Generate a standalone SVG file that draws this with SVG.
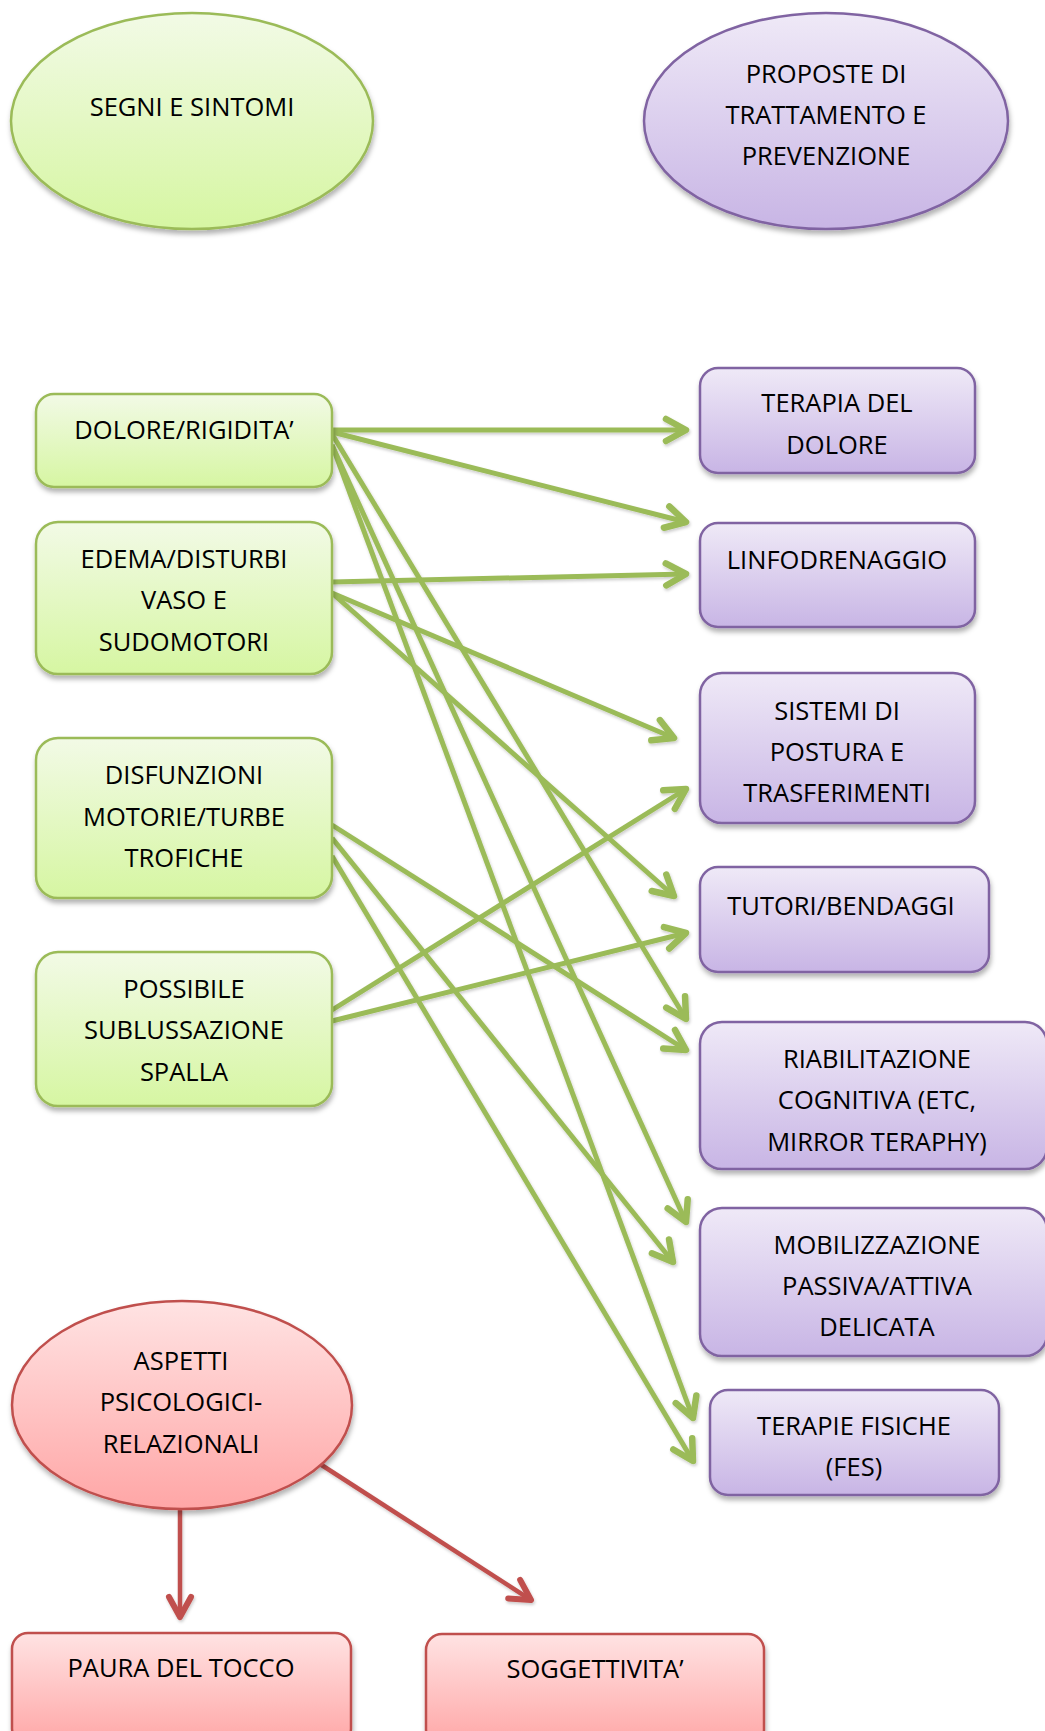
<svg xmlns="http://www.w3.org/2000/svg" width="1045" height="1731" viewBox="0 0 1045 1731">
<defs>
<linearGradient id="gG" x1="0" y1="0" x2="0" y2="1"><stop offset="0" stop-color="#F2FAE6"/><stop offset="1" stop-color="#D6F6A2"/></linearGradient>
<linearGradient id="gP" x1="0" y1="0" x2="0" y2="1"><stop offset="0" stop-color="#EFE9F7"/><stop offset="1" stop-color="#C8B5E5"/></linearGradient>
<linearGradient id="gR" x1="0" y1="0" x2="0" y2="1"><stop offset="0" stop-color="#FFE3E3"/><stop offset="1" stop-color="#FFA6A6"/></linearGradient>
<filter id="sh" x="-10%" y="-10%" width="120%" height="130%"><feDropShadow dx="1" dy="4" stdDeviation="2.5" flood-color="#000" flood-opacity="0.3"/></filter>
<filter id="lsh" x="-10%" y="-10%" width="120%" height="120%"><feDropShadow dx="1" dy="2" stdDeviation="1.5" flood-color="#000" flood-opacity="0.2"/></filter>
<marker id="ag" markerUnits="userSpaceOnUse" viewBox="-28 -18 34 36" refX="0" refY="0" markerWidth="34" markerHeight="36" orient="auto">
<path d="M-20,-11 L0,0 L-20,11" fill="none" stroke="#9BBB59" stroke-width="6.5" stroke-linecap="round" stroke-linejoin="round"/>
</marker>
<marker id="ar" markerUnits="userSpaceOnUse" viewBox="-28 -18 34 36" refX="0" refY="0" markerWidth="34" markerHeight="36" orient="auto">
<path d="M-20,-11 L0,0 L-20,11" fill="none" stroke="#C0504D" stroke-width="6" stroke-linecap="round" stroke-linejoin="round"/>
</marker>
</defs>
<style>
.t{font-family:"Open Sans","Noto Sans","Liberation Sans",sans-serif;font-size:25.5px;fill:#000;text-anchor:middle}
.g{fill:url(#gG);stroke:#9BBB59;stroke-width:2.5;filter:url(#sh)}
.p{fill:url(#gP);stroke:#8064A2;stroke-width:2.5;filter:url(#sh)}
.r{fill:url(#gR);stroke:#C0504D;stroke-width:2.5;filter:url(#sh)}
.cg line{stroke:#9BBB59;stroke-width:5;marker-end:url(#ag)}
.cr line{stroke:#C0504D;stroke-width:4.5;marker-end:url(#ar)}
</style>
<rect width="1045" height="1731" fill="#fff"/>

<g id="connectors" filter="url(#lsh)">
<g class="cg">
<line x1="332" y1="430" x2="686" y2="430"/>
<line x1="332" y1="432" x2="686" y2="522"/>
<line x1="332" y1="434" x2="686" y2="1019"/>
<line x1="332" y1="445" x2="686" y2="1222"/>
<line x1="332" y1="445" x2="693" y2="1418"/>
<line x1="332" y1="582" x2="686" y2="574"/>
<line x1="332" y1="593" x2="674" y2="738"/>
<line x1="332" y1="593" x2="674" y2="896"/>
<line x1="332" y1="825" x2="686" y2="1050"/>
<line x1="332" y1="838" x2="673" y2="1262"/>
<line x1="332" y1="856" x2="693" y2="1461"/>
<line x1="332" y1="1010" x2="686" y2="789"/>
<line x1="332" y1="1021" x2="686" y2="933"/>
</g>
<g class="cr">
<line x1="180" y1="1509" x2="180" y2="1617"/>
<line x1="320" y1="1464" x2="531" y2="1600"/>
</g>
</g>

<g id="segni"><ellipse class="g" cx="192" cy="121" rx="181" ry="108"/><text class="t" x="192" y="116">SEGNI E SINTOMI</text></g>
<g id="proposte"><ellipse class="p" cx="826" cy="121" rx="182" ry="108"/><text class="t" x="826" y="83">PROPOSTE DI</text><text class="t" x="826" y="124">TRATTAMENTO E</text><text class="t" x="826" y="165">PREVENZIONE</text></g>

<g id="dolore"><rect class="g" x="36" y="394" width="296" height="93" rx="18"/><text class="t" x="184" y="439">DOLORE/RIGIDITA’</text></g>
<g id="edema"><rect class="g" x="36" y="522" width="296" height="152" rx="22"/><text class="t" x="184" y="568">EDEMA/DISTURBI</text><text class="t" x="184" y="609">VASO E</text><text class="t" x="184" y="651">SUDOMOTORI</text></g>
<g id="disfunzioni"><rect class="g" x="36" y="738" width="296" height="160" rx="22"/><text class="t" x="184" y="784">DISFUNZIONI</text><text class="t" x="184" y="826">MOTORIE/TURBE</text><text class="t" x="184" y="867">TROFICHE</text></g>
<g id="possibile"><rect class="g" x="36" y="952" width="296" height="154" rx="22"/><text class="t" x="184" y="998">POSSIBILE</text><text class="t" x="184" y="1039">SUBLUSSAZIONE</text><text class="t" x="184" y="1081">SPALLA</text></g>

<g id="terapia-dolore"><rect class="p" x="700" y="368" width="275" height="105" rx="18"/><text class="t" x="837" y="412">TERAPIA DEL</text><text class="t" x="837" y="454">DOLORE</text></g>
<g id="linfodrenaggio"><rect class="p" x="700" y="523" width="275" height="104" rx="18"/><text class="t" x="837" y="569">LINFODRENAGGIO</text></g>
<g id="sistemi"><rect class="p" x="700" y="673" width="275" height="150" rx="22"/><text class="t" x="837" y="720">SISTEMI DI</text><text class="t" x="837" y="761">POSTURA E</text><text class="t" x="837" y="802">TRASFERIMENTI</text></g>
<g id="tutori"><rect class="p" x="700" y="867" width="289" height="105" rx="18"/><text class="t" x="841" y="915">TUTORI/BENDAGGI</text></g>
<g id="riabilitazione"><rect class="p" x="700" y="1022" width="347" height="147" rx="22"/><text class="t" x="877" y="1068">RIABILITAZIONE</text><text class="t" x="877" y="1109">COGNITIVA (ETC,</text><text class="t" x="877" y="1151">MIRROR TERAPHY)</text></g>
<g id="mobilizzazione"><rect class="p" x="700" y="1208" width="347" height="148" rx="22"/><text class="t" x="877" y="1254">MOBILIZZAZIONE</text><text class="t" x="877" y="1295">PASSIVA/ATTIVA</text><text class="t" x="877" y="1336">DELICATA</text></g>
<g id="terapie-fisiche"><rect class="p" x="710" y="1390" width="289" height="105" rx="18"/><text class="t" x="854" y="1435">TERAPIE FISICHE</text><text class="t" x="854" y="1476">(FES)</text></g>

<g id="aspetti"><ellipse class="r" cx="182" cy="1405" rx="170" ry="104"/><text class="t" x="181" y="1370">ASPETTI</text><text class="t" x="181" y="1411">PSICOLOGICI-</text><text class="t" x="181" y="1453">RELAZIONALI</text></g>
<g id="paura"><rect class="r" x="12" y="1633" width="339" height="112" rx="16"/><text class="t" x="181" y="1677">PAURA DEL TOCCO</text></g>
<g id="soggettivita"><rect class="r" x="426" y="1634" width="338" height="112" rx="16"/><text class="t" x="595" y="1678">SOGGETTIVITA’</text></g>
</svg>
